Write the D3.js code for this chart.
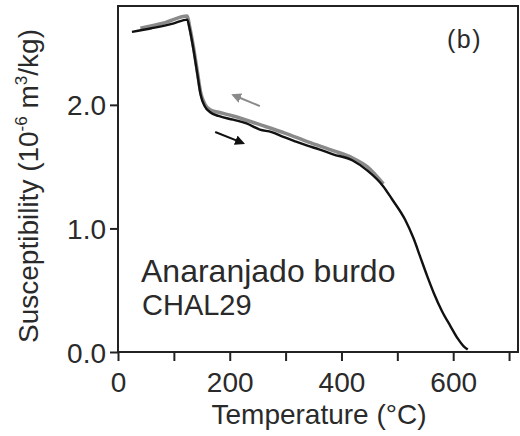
<!DOCTYPE html>
<html><head><meta charset="utf-8">
<script src="https://cdn.jsdelivr.net/npm/d3@7"></script>
<style>body{margin:0;background:#fff}svg{display:block}text{font-family:"Liberation Sans",Arial,sans-serif;fill:#2a2a2a}</style>
</head><body>
<script>
const heatT = [25, 60, 100, 124, 128, 135, 142, 148, 155, 165, 180, 206, 230, 254, 275, 296, 320, 339, 360, 385, 420, 446, 475, 490, 514, 529, 541, 553, 565, 580, 595, 608, 618, 626];
const heatV = [2.59, 2.62, 2.66, 2.69, 2.62, 2.45, 2.25, 2.08, 1.99, 1.94, 1.91, 1.88, 1.85, 1.80, 1.78, 1.74, 1.70, 1.67, 1.64, 1.60, 1.55, 1.47, 1.34, 1.24, 1.07, 0.92, 0.77, 0.62, 0.48, 0.33, 0.21, 0.11, 0.05, 0.02];
const coolT = [40, 80, 124, 128, 135, 142, 148, 155, 165, 180, 206, 254, 300, 340, 385, 420, 446, 475];
const coolV = [2.62, 2.66, 2.72, 2.64, 2.47, 2.27, 2.10, 2.01, 1.96, 1.94, 1.91, 1.84, 1.77, 1.70, 1.63, 1.57, 1.50, 1.36];
const xTicks = [0, 100, 200, 300, 400, 500, 600, 700];
const xTickLabels = ["0", "200", "400", "600"];
const yTicks = [0, 1, 2];

const W = 520, H = 436;
const m = {l: 118, r: 2, t: 6, b: 84};
const svg = d3.select("body").append("svg").attr("width", W).attr("height", H);
const x = d3.scaleLinear().domain([0, 716]).range([m.l, W - m.r]);
const y = d3.scaleLinear().domain([0, 2.8]).range([H - m.b, m.t]);

const line = d3.line().x(d => x(d[0])).y(d => y(d[1])).curve(d3.curveMonotoneX);
const cool = coolT.map((t, i) => [t, coolV[i]]);
const heat = heatT.map((t, i) => [t, heatV[i]]);

svg.append("path").datum(cool).attr("d", line).attr("fill", "none").attr("stroke", "#8a8a8a").attr("stroke-width", 3.5).attr("stroke-linejoin", "round");
svg.append("path").datum(heat).attr("d", line).attr("fill", "none").attr("stroke", "#111").attr("stroke-width", 2.4).attr("stroke-linejoin", "round");

// frame
svg.append("rect").attr("x", x(0)).attr("y", y(2.8)).attr("width", x(716) - x(0)).attr("height", y(0) - y(2.8))
  .attr("fill", "none").attr("stroke", "#222").attr("stroke-width", 2);

const xAxis = d3.axisBottom(x).tickValues(xTicks).tickSize(9)
  .tickFormat(d => xTickLabels.includes(String(d)) ? String(d) : "");
const gx = svg.append("g").attr("transform", `translate(0,${y(0)})`).call(xAxis);
gx.select(".domain").remove();
gx.selectAll("line").attr("stroke", "#222").attr("stroke-width", 2);
gx.selectAll("text").attr("font-size", 28).attr("y", 40).attr("dy", 0);

const yAxis = d3.axisLeft(y).tickValues(yTicks).tickSize(8).tickFormat(d3.format(".1f"));
const gy = svg.append("g").attr("transform", `translate(${x(0)},0)`).call(yAxis);
gy.select(".domain").remove();
gy.selectAll("line").attr("stroke", "#222").attr("stroke-width", 2);
gy.selectAll("text").attr("font-size", 28).attr("x", -12).attr("dy", "0.36em");

// axis titles
svg.append("text").attr("x", 319).attr("y", 424).attr("text-anchor", "middle").attr("font-size", 28).text("Temperature (°C)");
const yl = svg.append("text").attr("transform", "translate(38,186) rotate(-90)").attr("text-anchor", "middle").attr("font-size", 28);
yl.append("tspan").text("Susceptibility (10");
yl.append("tspan").attr("font-size", 17).attr("dy", -11).text("-6");
yl.append("tspan").attr("dy", 11).text(" m");
yl.append("tspan").attr("font-size", 17).attr("dy", -11).text("3");
yl.append("tspan").attr("dy", 11).text("/kg)");

// annotations
svg.append("text").attr("x", 141).attr("y", 282).attr("font-size", 32).text("Anaranjado burdo");
svg.append("text").attr("x", 142).attr("y", 315).attr("font-size", 29).text("CHAL29");
svg.append("text").attr("x", 447).attr("y", 48).attr("font-size", 25).attr("letter-spacing", 1.5).text("(b)");

// arrows
const defs = svg.append("defs");
[["ag", "#8a8a8a"], ["ab", "#111"]].forEach(([id, c]) => {
  defs.append("marker").attr("id", id).attr("viewBox", "0 0 10 10").attr("refX", 8).attr("refY", 5)
    .attr("markerWidth", 5).attr("markerHeight", 5).attr("orient", "auto")
    .append("path").attr("d", "M0,0L10,5L0,10z").attr("fill", c);
});
svg.append("line").attr("x1", x(254)).attr("y1", y(1.99)).attr("x2", x(206)).attr("y2", y(2.08))
  .attr("stroke", "#8a8a8a").attr("stroke-width", 2).attr("marker-end", "url(#ag)");
svg.append("line").attr("x1", x(174)).attr("y1", y(1.78)).attr("x2", x(224)).attr("y2", y(1.69))
  .attr("stroke", "#111").attr("stroke-width", 2).attr("marker-end", "url(#ab)");
</script>
</body></html>
